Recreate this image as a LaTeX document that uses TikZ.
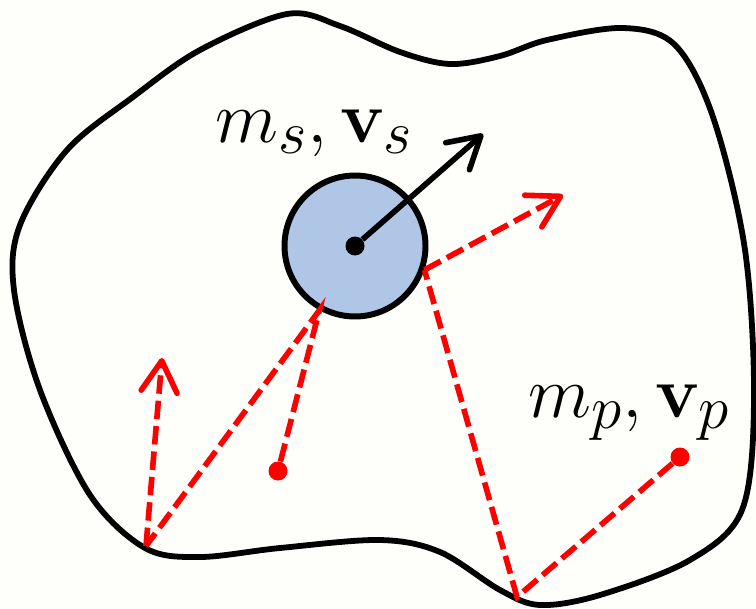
\documentclass[tikz,border=0pt]{standalone}
\usepackage{amsmath}
\usepackage{graphicx}
\usetikzlibrary{arrows.meta}
\definecolor{spherefill}{RGB}{176,198,230}
\definecolor{paper}{RGB}{254,254,250}

\begin{document}
\begin{tikzpicture}[
    x=0.02cm, y=-0.02cm,
    wall/.style={draw=black, line width=3.3pt},
    sphere/.style={circle, draw=black, fill=spherefill, line width=3.4pt, minimum size=2.82cm, inner sep=0pt},
    dot/.style={circle, fill=#1, minimum size=0.38cm, inner sep=0pt},
    vel/.style={-{Straight Barb[length=0.62cm, width=0.72cm, round]}, line width=3.2pt, black},
    ray/.style={red, line width=3.2pt, dash pattern=on 10.5pt off 4pt},
    rayvel/.style={ray, -{Straight Barb[length=0.62cm, width=0.72cm, round]}},
    lbl/.style={anchor=base west, inner sep=0pt, font=\Huge},
]
\fill[paper] (0,0) rectangle (756,608);
\useasboundingbox (0,0) rectangle (756,608);

% container wall
\draw[wall] plot[smooth cycle, tension=0.55] coordinates {
    (287,14) (340,26) (400,52) (450,64) (500,56) (547,40) (623,28) (675,45) (713,117)
    (745,250) (754,400) (742,510) (690,560) (600,595) (540,605)
    (500,590) (440,552) (380,540) (280,548) (200,557) (145,548)
    (90,495) (40,390) (14,290) (20,225) (67,150) (133,97) (200,50)};

% heavy sphere
\node[sphere] (sphere) at (355,246) {};
\node[dot=black] (sdot) at (355,246) {};
\node[lbl] (slabel) at (215,142) {\scalebox{1.68}{$m_s, \mathbf{v}_s$}};
\coordinate (vs) at (483,134);
\draw[vel] (sdot) -- (vs);

% light particles
\node[dot=red] (p1) at (278,471) {};
\node[dot=red] (p2) at (680,457) {};
\node[lbl] (plabel) at (528,417) {\scalebox{1.68}{$m_p, \mathbf{v}_p$}};

% wall hits and outgoing velocities
\coordinate (w1) at (146,546);
\coordinate (w2) at (517,597);
\coordinate (v1) at (162,358);
\coordinate (v2) at (563,195);

\draw[ray] (p1) -- (sphere.241) -- (w1);
\draw[rayvel] (w1) -- (v1);
\draw[ray] (p2) -- (w2) -- (sphere.341);
\draw[rayvel] (sphere.341) -- (v2);
\end{tikzpicture}
\end{document}
